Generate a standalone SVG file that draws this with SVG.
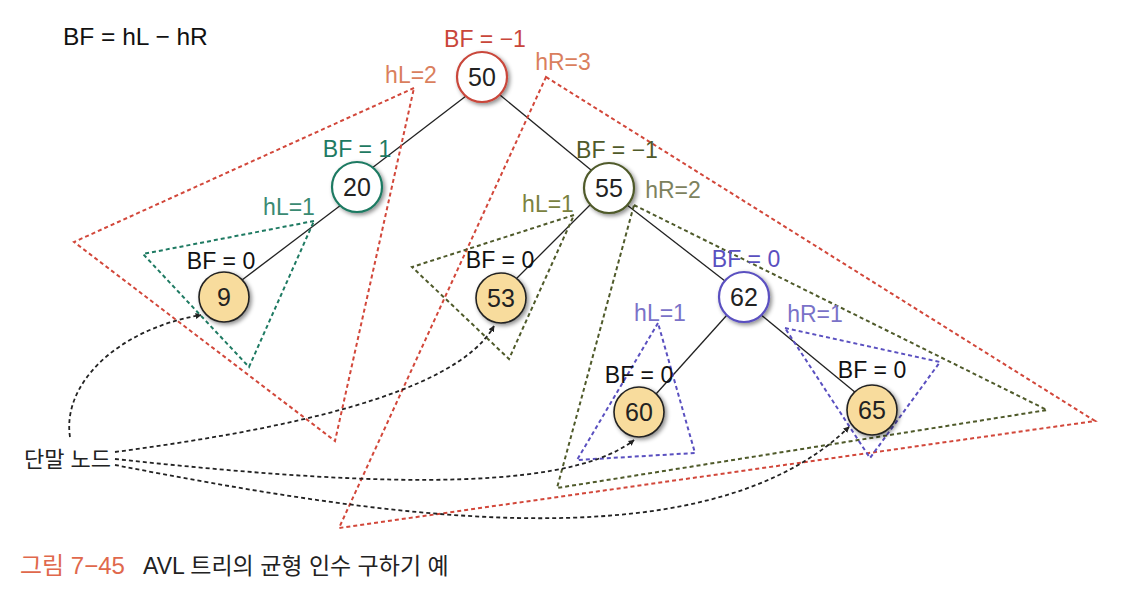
<svg xmlns="http://www.w3.org/2000/svg" width="1138" height="596" viewBox="0 0 1138 596">
<style>
text{font-family:"Liberation Sans","Noto Sans CJK KR",sans-serif;}
.lbl{font-size:23px;text-anchor:middle;}
.h{font-size:23px;text-anchor:middle;}
.num{font-size:25px;text-anchor:middle;fill:#222;}
.edge{stroke:#222;stroke-width:1.3;fill:none;}
.tri{fill:none;stroke-width:2;stroke-dasharray:4 3;}
.red{stroke:#d2473a;}
.teal{stroke:#1e7a62;}
.olive{stroke:#4f5a2a;}
.purple{stroke:#5a50c0;}
.arr{fill:none;stroke:#222;stroke-width:1.8;stroke-dasharray:4 3;marker-end:url(#ah);}
.leaf{fill:#f8dc9d;stroke:#222;stroke-width:1.6;}
</style>
<defs>
<filter id="sh" x="-50%" y="-50%" width="200%" height="200%">
<feDropShadow dx="2" dy="2" stdDeviation="2.2" flood-color="#000" flood-opacity="0.45"/>
</filter>
<marker id="ah" viewBox="0 0 10 10" refX="9" refY="5" markerWidth="6" markerHeight="6" orient="auto" markerUnits="userSpaceOnUse">
<path d="M0,0 L10,5 L0,10 z" fill="#222"/>
</marker>
</defs>
<rect width="1138" height="596" fill="#fff"/>

<text x="63" y="45" style="font-size:24.5px;fill:#111">BF = hL − hR</text>

<g id="connectors">
<line class="edge" x1="466" y1="96" x2="372" y2="168"/>
<line class="edge" x1="500" y1="95" x2="591" y2="170"/>
<line class="edge" x1="341" y1="205" x2="242" y2="280"/>
<line class="edge" x1="590" y1="205" x2="516" y2="279"/>
<line class="edge" x1="627" y1="205" x2="725" y2="281"/>
<line class="edge" x1="727" y1="315" x2="656" y2="394"/>
<line class="edge" x1="760" y1="314" x2="856" y2="393"/>
</g>

<g id="subtrees">
<polygon class="tri red" points="414,88 74,242 335,441"/>
<polygon class="tri red" points="546,77 1095,421 339,528"/>
<polygon class="tri teal" points="314,221 143,254 249,367"/>
<polygon class="tri olive" points="574,215 412,267 509,359"/>
<polygon class="tri olive" points="634,205 1047,410 557,488"/>
<polygon class="tri purple" points="658,323 577,460 695,453"/>
<polygon class="tri purple" points="785,328 940,362 870,458"/>
</g>

<g id="node50">
<circle cx="482" cy="77" r="25" fill="#fff" stroke="#c9463a" stroke-width="2.2" filter="url(#sh)"/>
<text class="num" x="482" y="86">50</text>
</g>
<g id="node20">
<circle cx="357" cy="187" r="25" fill="#fff" stroke="#1e7a62" stroke-width="2.2" filter="url(#sh)"/>
<text class="num" x="357" y="196">20</text>
</g>
<g id="node55">
<circle cx="609" cy="188" r="25" fill="#fff" stroke="#4f5a2a" stroke-width="2.2" filter="url(#sh)"/>
<text class="num" x="609" y="197">55</text>
</g>
<g id="node9">
<circle class="leaf" cx="224" cy="297" r="25" filter="url(#sh)"/>
<text class="num" x="224" y="306">9</text>
</g>
<g id="node53">
<circle class="leaf" cx="501" cy="298" r="25" filter="url(#sh)"/>
<text class="num" x="501" y="307">53</text>
</g>
<g id="node62">
<circle cx="744" cy="297" r="25" fill="#fff" stroke="#5a50c0" stroke-width="2.2" filter="url(#sh)"/>
<text class="num" x="744" y="306">62</text>
</g>
<g id="node60">
<circle class="leaf" cx="639" cy="412" r="25" filter="url(#sh)"/>
<text class="num" x="639" y="421">60</text>
</g>
<g id="node65">
<circle class="leaf" cx="872" cy="410" r="25" filter="url(#sh)"/>
<text class="num" x="872" y="419">65</text>
</g>

<g id="labels">
<text class="lbl" x="485" y="47" fill="#c9463a">BF = −1</text>
<text class="h" x="411" y="83" fill="#da7f5e">hL=2</text>
<text class="h" x="563" y="70" fill="#da7f5e">hR=3</text>
<text class="lbl" x="357" y="157" fill="#1e7a62">BF = 1</text>
<text class="h" x="289" y="215" fill="#3a8a72">hL=1</text>
<text class="lbl" x="617" y="158" fill="#4f5a2a">BF = −1</text>
<text class="h" x="673" y="198" fill="#7d825e">hR=2</text>
<text class="h" x="548" y="212" fill="#7a8240">hL=1</text>
<text class="lbl" x="221" y="269" fill="#111">BF = 0</text>
<text class="lbl" x="500" y="268" fill="#111">BF = 0</text>
<text class="lbl" x="746" y="267" fill="#5a50c0">BF = 0</text>
<text class="h" x="660" y="321" fill="#7a72c8">hL=1</text>
<text class="h" x="815" y="322" fill="#7a72c8">hR=1</text>
<text class="lbl" x="639" y="383" fill="#111">BF = 0</text>
<text class="lbl" x="872" y="378" fill="#111">BF = 0</text>
</g>

<g id="leaf-label">
<text x="24" y="467" style="font-size:22px;fill:#222">단말 노드</text>
<path class="arr" d="M70,437 C62,385 115,330 201,315"/>
<path class="arr" d="M115,452 C280,430 455,395 494,326"/>
<path class="arr" d="M115,459 C330,482 560,498 634,440"/>
<path class="arr" d="M115,465 C360,512 700,572 849,427"/>
</g>

<g id="caption">
<text x="20" y="574" style="font-size:24px;fill:#e0684c">그림 7−45</text>
<text x="143" y="574" style="font-size:23px;fill:#222">AVL 트리의 균형 인수 구하기 예</text>
</g>
</svg>
